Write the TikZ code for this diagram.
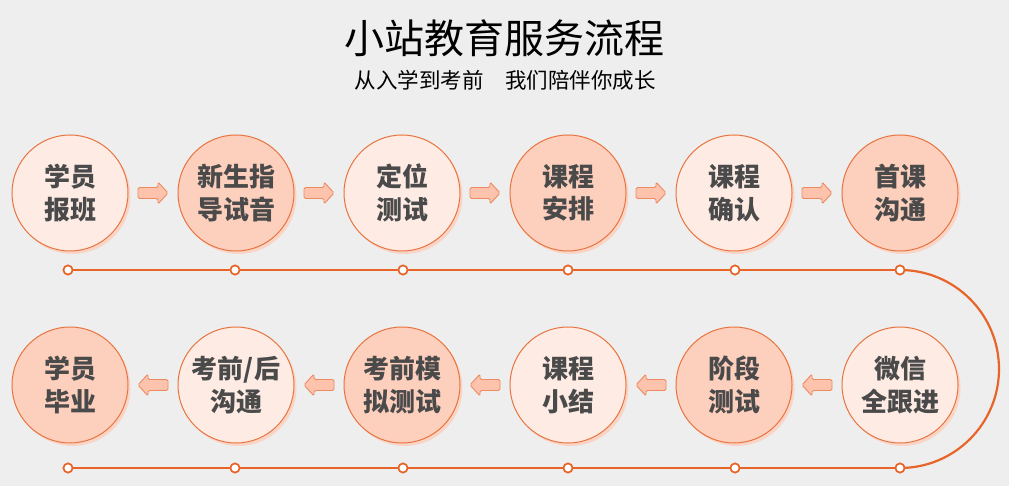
\documentclass[tikz,border=0pt]{standalone}
\usepackage{fontspec}
\setmainfont{Noto Sans CJK SC}
\usetikzlibrary{shadows}
\definecolor{bg}{HTML}{EEEEEE}
\definecolor{lightc}{HTML}{FDEBE4}
\definecolor{darkc}{HTML}{FDCFBD}
\definecolor{shadc}{HTML}{FAD5C6}
\definecolor{borderc}{HTML}{E8733F}
\definecolor{linec}{HTML}{E8652A}
\definecolor{arrowf}{HTML}{FDC3AD}
\definecolor{arrowd}{HTML}{EE8A60}
\definecolor{txt}{HTML}{4A4A4A}
\tikzset{
  stepc/.style={circle, draw=borderc, line width=1pt, minimum size=116pt, inner sep=0pt,
    align=center, text=txt, font=\fontsize{26}{32.5}\selectfont\bfseries,
    general shadow={shadow xshift=2.5pt, shadow yshift=-3pt, fill=shadc}},
  lightstep/.style={stepc, fill=lightc},
  darkstep/.style={stepc, fill=darkc},
  dotn/.style={circle, draw=linec, fill=white, line width=1.6pt, minimum size=9pt, inner sep=0pt},
  arrowsty/.style={fill=arrowf, draw=arrowd, line width=0.9pt, rounded corners=1.5pt},
  rarrow/.pic={\draw[arrowsty] (-15,-5.5) -- (5,-5.5) -- (5,-11) -- (15,0) -- (5,11) -- (5,5.5) -- (-15,5.5) -- cycle;},
  larrow/.pic={\draw[arrowsty] (15,-5.5) -- (-5,-5.5) -- (-5,-11) -- (-15,0) -- (-5,11) -- (-5,5.5) -- (15,5.5) -- cycle;},
}
\begin{document}
\begin{tikzpicture}[x=1pt,y=-1pt]
\fill[bg] (0,0) rectangle (1009,486);
\useasboundingbox (0,0) rectangle (1009,486);
\node[font=\fontsize{40}{44}\selectfont, text=black] (title) at (504,38) {小站教育服务流程};
\node[font=\fontsize{21.5}{24}\selectfont, text=black] (sub) at (505,80) {从入学到考前\hspace{1em}我们陪伴你成长};
% track
\node[dotn] (d1) at (68,270) {};
\node[dotn] (d2) at (235,270) {};
\node[dotn] (d3) at (403,270) {};
\node[dotn] (d4) at (568,270) {};
\node[dotn] (d5) at (735,270) {};
\node[dotn] (d6) at (900,270) {};
\node[dotn] (e1) at (68,468) {};
\node[dotn] (e2) at (235,468) {};
\node[dotn] (e3) at (403,468) {};
\node[dotn] (e4) at (568,468) {};
\node[dotn] (e5) at (735,468) {};
\node[dotn] (e6) at (900,468) {};
\draw[linec, line width=2.2pt] (d1) -- (d2) -- (d3) -- (d4) -- (d5) -- (d6);
\draw[linec, line width=2.2pt] (e1) -- (e2) -- (e3) -- (e4) -- (e5) -- (e6);
\draw[linec, line width=2.2pt] (d6.center) arc[start angle=-90, end angle=90, radius=99];
% redraw dots on top
\foreach \n in {d1,d2,d3,d4,d5,d6,e1,e2,e3,e4,e5,e6} {\node[dotn] at (\n) {};}
% top row
\node[lightstep] (s1) at (70,193) {学员\\报班};
\node[darkstep] (s2) at (236,193) {新生指\\导试音};
\node[lightstep] (s3) at (402,193) {定位\\测试};
\node[darkstep] (s4) at (568,193) {课程\\安排};
\node[lightstep] (s5) at (734,193) {课程\\确认};
\node[darkstep] (s6) at (900,193) {首课\\沟通};
% bottom row
\node[lightstep] (s7) at (900,385) {微信\\全跟进};
\node[darkstep] (s8) at (734,385) {阶段\\测试};
\node[lightstep] (s9) at (568,385) {课程\\小结};
\node[darkstep] (s10) at (402,385) {考前模\\拟测试};
\node[lightstep] (s11) at (236,385) {考前/后\\沟通};
\node[darkstep] (s12) at (70,385) {学员\\毕业};
% arrows
\foreach \a/\b in {s1/s2,s2/s3,s3/s4,s4/s5,s5/s6} {\path (\a) -- (\b) pic[midway] {rarrow};}
\foreach \a/\b in {s7/s8,s8/s9,s9/s10,s10/s11,s11/s12} {\path (\a) -- (\b) pic[midway] {larrow};}
\end{tikzpicture}
\end{document}
